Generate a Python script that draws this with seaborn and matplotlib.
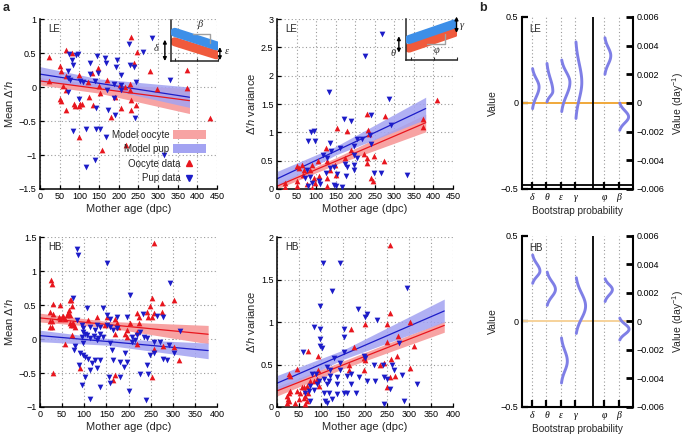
import numpy as np
import matplotlib
matplotlib.use('Agg')
import matplotlib.pyplot as plt
from matplotlib.patches import Patch
from matplotlib.lines import Line2D
from matplotlib.ticker import FuncFormatter
import seaborn as sns

sns.set_style('ticks')
plt.rcParams['font.family'] = ['Liberation Sans', 'DejaVu Sans']
plt.rcParams['mathtext.fontset'] = 'custom'
plt.rcParams['mathtext.rm'] = 'Liberation Sans'
plt.rcParams['mathtext.it'] = 'Liberation Sans:italic'
plt.rcParams['mathtext.bf'] = 'Liberation Sans:bold'

# ---------------- data ----------------
# LE, mean
le_mean_oo_x = [24,24,51,53,59,51,53,66,65,65,66,81,87,89,98,98,102,98,107,121,124,132,134,148,151,153,157,170,180,191,204,205,217,219,232,238,229,229,231,232,244,246,280,297,374,374,431]
le_mean_oo_y = [0.44,0.09,0.31,0.24,0.01,-0.18,-0.2,0.54,0.16,-0.04,-0.34,0.5,-0.25,-0.28,0.18,-0.28,-0.25,-0.73,-0.25,0.08,-0.14,0.2,-0.26,0.28,0.02,-0.09,-0.93,0.1,-0.44,-0.14,0.03,-0.31,0.0,-0.85,0.73,0.36,0.05,-0.04,-0.19,-0.34,-0.27,0.52,0.24,-0.03,0.25,-0.02,-0.46]
le_mean_pu_x = [73,81,83,92,96,72,72,76,72,98,102,109,83,117,117,126,126,140,142,143,140,153,148,146,165,168,168,170,174,187,187,191,195,193,205,205,205,225,229,238,244,242,263,284,314,331]
le_mean_pu_y = [0.48,0.4,0.33,0.47,0.49,0.23,0.13,0.11,-0.07,-0.17,0.09,0.08,-0.65,-0.62,-1.17,0.35,0.19,0.09,-0.31,-0.62,-1.07,-0.62,0.2,0.45,0.42,0.35,-0.73,-0.04,-0.34,0.05,-0.16,-0.41,0.4,0.3,0.18,0.03,-0.04,0.64,0.32,0.3,0.08,-0.45,0.52,0.72,-1.0,0.11]

# LE, variance
le_var_oo_x = [21,21,51,55,64,51,51,66,68,77,85,90,94,98,104,107,124,128,128,136,147,152,153,175,179,188,222,230,232,230,230,235,239,246,247,277,274,373,373,409,90,128]
le_var_oo_y = [0.11,0.03,0.41,0.37,0.43,0.14,0.05,0.25,0.33,0.09,0.34,0.43,0.2,0.11,0.5,0.23,0.73,0.49,0.2,0.34,0.43,0.25,1.07,0.54,1.03,0.68,0.61,1.33,1.04,0.55,0.46,0.97,0.2,0.14,0.58,1.29,0.49,1.23,1.1,1.57,0.02,0.05]
le_var_pu_x = [269,226,134,286,170,188,240,88,94,79,96,292,118,136,138,162,196,205,196,205,217,237,239,175,179,196,198,145,136,124,153,77,72,85,90,107,111,78,145,152,166,247,266,331,177,128]
le_var_pu_y = [2.73,2.34,1.71,1.59,1.23,1.2,1.3,1.01,1.03,0.85,0.85,1.13,0.6,0.82,0.67,0.72,0.76,0.89,0.6,0.55,0.88,0.95,0.8,0.44,0.39,0.43,0.33,0.39,0.37,0.28,0.27,0.34,0.2,0.21,0.11,0.14,0.09,0.05,0.07,0.05,0.03,0.28,0.28,0.24,0.23,0.55]

# HB, mean
hb_mean_oo_x = [24,28,30,23,23,26,30,23,26,45,44,45,50,53,57,60,63,66,67,70,72,68,72,75,70,78,57,30,72,90,109,128,147,151,170,170,174,177,170,166,192,196,196,204,219,219,223,223,219,242,245,249,253,253,257,258,258,253,275,275,302,279,302,313,68,75]
hb_mean_oo_y = [0.87,0.81,0.52,0.4,0.27,0.26,0.37,0.17,0.18,0.5,0.33,0.3,0.33,0.34,0.3,0.36,0.38,0.42,0.58,0.57,0.48,0.35,0.22,0.2,0.2,0.17,-0.08,-0.5,0.06,-0.42,0.28,0.33,0.21,0.33,0.3,0.08,0.23,0.18,-0.53,-0.61,0.08,0.03,0.13,0.23,0.38,0.11,0.33,0.23,-0.07,0.4,0.33,0.48,0.6,0.33,0.38,1.41,-0.15,-0.56,0.4,0.53,0.58,-0.11,-0.12,-0.31,0.23,0.23]
hb_mean_pu_x = [83,85,151,294,75,204,143,174,106,232,264,279,317,83,94,97,98,102,94,107,113,113,121,128,136,125,128,136,132,143,151,151,158,158,166,175,196,208,208,215,220,226,234,242,257,272,291,302,98,79,77,91,102,98,109,113,117,125,128,136,158,162,166,192,196,189,181,181,155,158,136,113,240,200,226,249,242,257,279,245,287,89,102,94]
hb_mean_pu_y = [1.32,1.24,1.12,0.82,0.6,0.65,0.45,0.33,0.45,0.37,0.34,0.33,0.12,0.28,0.21,0.16,0.11,0.07,0.03,0.06,0.01,0.18,0.04,0.21,0.18,0.13,-0.02,0.08,0.01,0.03,0.35,0.21,0.3,0.18,0.13,0.16,0.33,0.03,-0.04,-0.02,0.06,0.11,0.03,0.01,-0.04,-0.04,-0.09,-0.2,-0.24,-0.11,-0.16,-0.21,-0.26,-0.06,-0.29,-0.46,-0.36,-0.31,-0.43,-0.31,-0.06,-0.16,-0.31,-0.2,-0.34,-0.41,-0.34,-0.56,-0.56,-0.65,-0.7,-0.88,-0.89,-0.76,-0.51,-0.24,-0.38,-0.21,-0.29,-0.51,-0.31,-0.38,-0.56,-0.68]

# HB, variance
hb_var_oo_x = [256,256,303,250,201,167,274,311,174,250,273,197,201,163,163,197,242,235,259,303,269,256,250,70,92,45,29,27,27,30,23,24,23,27,45,53,57,61,64,68,64,70,76,83,91,92,95,61,68,49,64,42]
hb_var_oo_y = [1.91,1.11,1.0,0.98,0.98,0.92,0.83,0.72,0.71,0.76,0.6,0.58,0.55,0.5,0.43,0.44,0.52,0.5,0.56,0.46,0.37,0.35,0.23,0.66,0.6,0.45,0.37,0.39,0.17,0.19,0.13,0.09,0.05,0.07,0.19,0.17,0.23,0.24,0.19,0.25,0.13,0.16,0.3,0.31,0.33,0.43,0.25,0.11,0.07,0.09,0.03,0.05]
hb_var_pu_x = [105,144,125,295,184,205,201,227,97,83,97,153,152,97,98,102,59,277,153,129,144,114,197,201,220,241,261,265,284,242,250,256,318,288,244,205,223,186,167,159,121,121,136,117,114,106,117,110,114,125,136,152,159,180,76,80,89,95,76,64,72,83,91,136,144,167,106]
hb_var_pu_y = [1.69,1.69,1.37,1.4,1.15,1.09,1.06,1.02,1.19,0.94,0.92,0.92,0.82,0.8,0.72,0.7,0.65,0.75,0.65,0.58,0.52,0.47,0.6,0.58,0.5,0.5,0.5,0.44,0.38,0.35,0.33,0.21,0.27,0.07,0.03,0.31,0.31,0.35,0.27,0.37,0.43,0.37,0.35,0.31,0.27,0.17,0.16,0.07,0.05,0.09,0.15,0.17,0.17,0.17,0.25,0.39,0.39,0.31,0.07,0.17,0.19,0.2,0.27,0.27,0.43,0.39,0.33]

# model fits (mother age, fit, lower, upper)
fit_x = [0, 150, 380]
le_mean_oo_fit = [0.09, -0.025, -0.20];  le_mean_oo_lo = [0.03, -0.09, -0.39];  le_mean_oo_hi = [0.14, 0.04, -0.02]
le_mean_pu_fit = [0.19, 0.055, -0.15];   le_mean_pu_lo = [0.08, 0.0, -0.30];    le_mean_pu_hi = [0.30, 0.12, 0.0]
le_var_oo_fit = [0.05, 0.49, 1.17];      le_var_oo_lo = [0.0, 0.43, 1.01];      le_var_oo_hi = [0.10, 0.55, 1.32]
le_var_pu_fit = [0.18, 0.67, 1.42];      le_var_pu_lo = [0.05, 0.60, 1.23];     le_var_pu_hi = [0.31, 0.75, 1.62]
hb_mean_oo_fit = [0.31, 0.215, 0.07];    hb_mean_oo_lo = [0.25, 0.17, -0.07];   hb_mean_oo_hi = [0.38, 0.26, 0.20]
hb_mean_pu_fit = [0.05, -0.035, -0.17];  hb_mean_pu_lo = [-0.04, -0.09, -0.29]; hb_mean_pu_hi = [0.13, 0.01, -0.06]
hb_var_oo_fit = [0.19, 0.495, 0.96];     hb_var_oo_lo = [0.13, 0.45, 0.88];     hb_var_oo_hi = [0.24, 0.54, 1.01]
hb_var_pu_fit = [0.28, 0.615, 1.13];     hb_var_pu_lo = [0.19, 0.56, 1.00];     hb_var_pu_hi = [0.37, 0.67, 1.27]

# bootstrap distributions (peak, low end, high end, peak height)
params_left = ['δ', 'θ', 'ε', 'γ']
params_right = ['φ', 'β']
le_left_peak = [0.093, 0.068, 0.12, 0.12]
le_left_lo = [-0.033, 0.006, -0.05, -0.09]
le_left_hi = [0.20, 0.23, 0.25, 0.355]
le_left_h = [0.49, 0.44, 0.62, 0.44]
le_right_peak = [0.0033, -0.00097]
le_right_lo = [0.0020, -0.0019]
le_right_hi = [0.00455, 0.0]
le_right_h = [0.44, 0.67]
hb_left_peak = [0.295, 0.1875, -0.232, 0.09]
hb_left_lo = [0.223, 0.094, -0.36, -0.07]
hb_left_hi = [0.389, 0.289, -0.096, 0.256]
hb_left_h = [0.55, 0.62, 0.44, 0.70]
hb_right_peak = [0.00224, -0.00054]
hb_right_lo = [0.0014, -0.0013]
hb_right_hi = [0.0030, 0.00024]
hb_right_h = [0.55, 0.70]

# ---------------- style ----------------
RED = '#e8161e'
BLUE = '#1c1cc8'
RED_BAND = '#f7a3a3'
BLUE_BAND = '#a3a3f2'
VIOLIN = '#7f7fe6'
GRIDC = '#9a9a9a'

fmt = FuncFormatter(lambda v, p: ('%g' % round(v, 6)).replace('-', '\u2212'))

fig = plt.figure(figsize=(6.85, 4.38), dpi=100)


def scatter_panel(rect, xmax, ylim, yticks, ylabel, tag, ox, oy, px, py,
                  oo_fit, oo_lo, oo_hi, pu_fit, pu_lo, pu_hi):
    ax = fig.add_axes(rect)
    ax.fill_between(fit_x, oo_lo, oo_hi, color=RED_BAND, lw=0, zorder=1)
    ax.fill_between(fit_x, pu_lo, pu_hi, color=BLUE_BAND, alpha=0.85, lw=0, zorder=1.1)
    sns.lineplot(x=fit_x, y=oo_fit, color=RED, lw=0.9, ax=ax, zorder=2)
    sns.lineplot(x=fit_x, y=pu_fit, color=BLUE, lw=0.9, ax=ax, zorder=2)
    sns.scatterplot(x=ox, y=oy, marker='^', color=RED, s=17, linewidth=0, ax=ax, zorder=3)
    sns.scatterplot(x=px, y=py, marker='v', color=BLUE, s=17, linewidth=0, ax=ax, zorder=3)
    ax.set_xlim(0, xmax)
    ax.set_ylim(*ylim)
    ax.set_xticks(np.arange(0, xmax + 1, 50))
    ax.set_yticks(yticks)
    ax.xaxis.set_major_formatter(fmt)
    ax.yaxis.set_major_formatter(fmt)
    ax.grid(True, color=GRIDC, ls=(0, (1, 2.2)), lw=0.8, zorder=0)
    ax.set_axisbelow(True)
    for s in ['top', 'right']:
        ax.spines[s].set_visible(False)
    for s in ['left', 'bottom']:
        ax.spines[s].set_linewidth(1.1)
        ax.spines[s].set_color('black')
    ax.tick_params(direction='in', length=3, width=0.9, labelsize=6.5, pad=2.5, colors='black')
    ax.set_xlabel('Mother age (dpc)', fontsize=8, labelpad=2)
    ax.set_ylabel(ylabel, fontsize=8, labelpad=3)
    ax.text(0.045, 0.94, tag, transform=ax.transAxes, fontsize=7, va='center', ha='left')
    return ax


A_H = 0.388
ax1 = scatter_panel([0.0584, 0.5685, 0.2584, A_H], 450, (-1.5, 1), np.arange(-1.5, 1.01, 0.5),
                    'Mean Δ′$h$', 'LE', le_mean_oo_x, le_mean_oo_y, le_mean_pu_x, le_mean_pu_y,
                    le_mean_oo_fit, le_mean_oo_lo, le_mean_oo_hi, le_mean_pu_fit, le_mean_pu_lo, le_mean_pu_hi)
ax2 = scatter_panel([0.4044, 0.5685, 0.2570, A_H], 450, (0, 3), np.arange(0, 3.01, 0.5),
                    'Δ′$h$ variance', 'LE', le_var_oo_x, le_var_oo_y, le_var_pu_x, le_var_pu_y,
                    le_var_oo_fit, le_var_oo_lo, le_var_oo_hi, le_var_pu_fit, le_var_pu_lo, le_var_pu_hi)
ax3 = scatter_panel([0.0584, 0.0708, 0.2584, A_H], 400, (-1, 1.5), np.arange(-1, 1.51, 0.5),
                    'Mean Δ′$h$', 'HB', hb_mean_oo_x, hb_mean_oo_y, hb_mean_pu_x, hb_mean_pu_y,
                    hb_mean_oo_fit, hb_mean_oo_lo, hb_mean_oo_hi, hb_mean_pu_fit, hb_mean_pu_lo, hb_mean_pu_hi)
ax4 = scatter_panel([0.4044, 0.0708, 0.2570, A_H], 400, (0, 2), np.arange(0, 2.01, 0.5),
                    'Δ′$h$ variance', 'HB', hb_var_oo_x, hb_var_oo_y, hb_var_pu_x, hb_var_pu_y,
                    hb_var_oo_fit, hb_var_oo_lo, hb_var_oo_hi, hb_var_pu_fit, hb_var_pu_lo, hb_var_pu_hi)

# legend in first panel: model bands and data markers
band_handles = [Patch(facecolor=RED_BAND, edgecolor='none'),
                Patch(facecolor=BLUE_BAND, edgecolor='none')]
leg1 = ax1.legend(band_handles, ['Model oocyte', 'Model pup'],
                  loc='lower right', bbox_to_anchor=(0.935, 0.205), frameon=False, markerfirst=False,
                  fontsize=7, handlelength=3.3, handleheight=1.0, handletextpad=0.4,
                  labelspacing=0.45, borderpad=0, borderaxespad=0)
ax1.add_artist(leg1)
mark_handles = [Line2D([], [], marker='^', color=RED, ls='none', markersize=4),
                Line2D([], [], marker='v', color=BLUE, ls='none', markersize=4)]
ax1.legend(mark_handles, ['Oocyte data', 'Pup data'],
           loc='lower right', bbox_to_anchor=(0.865, 0.035), frameon=False, markerfirst=False,
           fontsize=7, handlelength=0.8, handletextpad=0.5,
           labelspacing=0.45, borderpad=0, borderaxespad=0)

SERIF = ['Liberation Serif', 'DejaVu Serif']


def inset(rect, blue_xy, red_xy, slope_pts, slope_lab, lab_xy, arrows):
    ia = fig.add_axes(rect)
    ia.set_xlim(0, 1)
    ia.set_ylim(0, 1)
    ia.patch.set_alpha(0)
    for s in ['top', 'right']:
        ia.spines[s].set_visible(False)
    for s in ['left', 'bottom']:
        ia.spines[s].set_linewidth(1.1)
    ia.set_xticks([0.09, 0.55, 1.0])
    ia.set_yticks([])
    ia.tick_params(axis='x', direction='in', length=2, width=0.8, labelbottom=False)
    ia.plot(*red_xy, color='#f05a3c', lw=6.5, solid_capstyle='round', zorder=2)
    ia.plot(*blue_xy, color='#3d8fe8', lw=6.5, solid_capstyle='round', zorder=3)
    ia.plot(*slope_pts, color='#a0a0a0', lw=1.0, zorder=4)
    ia.text(*lab_xy, slope_lab, fontsize=7.5, family=SERIF, style='italic', ha='center', va='center')
    for (x, y0, y1, lab, lx, ly) in arrows:
        ia.annotate('', xy=(x, y1), xytext=(x, y0),
                    arrowprops=dict(arrowstyle='<|-|>', color='black', lw=1.0,
                                    mutation_scale=5, shrinkA=0, shrinkB=0),
                    annotation_clip=False)
        ia.text(lx, ly, lab, fontsize=7.5, family=SERIF, style='italic', ha='center', va='center')
    return ia


inset([0.2496, 0.8607, 0.0686, 0.0936],
      ([0.08, 0.97], [0.70, 0.37]), ([0.08, 0.97], [0.47, 0.15]),
      ([0.47, 0.83, 0.83], [0.66, 0.66, 0.44]), 'β', (0.62, 0.9),
      [(-0.13, 0.0, 0.52, 'δ', -0.32, 0.3), (1.04, 0.02, 0.34, 'ε', 1.18, 0.22)])
inset([0.5927, 0.8630, 0.0745, 0.0936],
      ([0.06, 0.95], [0.50, 0.88]), ([0.06, 0.95], [0.29, 0.67]),
      ([0.41, 0.76, 0.76], [0.39, 0.39, 0.63]), 'φ', (0.59, 0.22),
      [(-0.14, 0.18, 0.58, 'θ', -0.26, 0.17), (0.99, 0.66, 1.06, 'γ', 1.1, 0.85)])


def curve(ax, pos, peak, lo, hi, h):
    ys = np.linspace(lo, hi, 120)
    sd = np.where(ys < peak, (peak - lo) / 2.2, (hi - peak) / 2.2)
    xs = pos + h * np.exp(-0.5 * ((ys - peak) / sd) ** 2)
    sns.lineplot(x=xs, y=ys, sort=False, estimator=None, color=VIOLIN, lw=2.1, ax=ax, zorder=3)


pos_left = [1, 2, 3, 4]
pos_right = [6, 7]


def panel_b(rect, tag, lpk, llo, lhi, lh, rpk, rlo, rhi, rh, zero_color, double_bottom):
    ax = fig.add_axes(rect)
    ax.set_xlim(0.31, 7.97)
    ax.set_ylim(-0.5, 0.5)
    for x in pos_left + pos_right:
        ax.axvline(x, color=GRIDC, ls=(0, (1, 2.2)), lw=0.8, zorder=0)
    ax.axvline(5.24, color='black', lw=1.3, zorder=2)
    ax.axhline(0, color=zero_color, lw=1.4, zorder=1)
    if double_bottom:
        ax.axhline(-0.476, color='black', lw=1.3, zorder=2)
    for p, a, b, c, h in zip(pos_left, lpk, llo, lhi, lh):
        curve(ax, p, a, b, c, h)
    ax.set_yticks([-0.5, 0, 0.5])
    ax.yaxis.set_major_formatter(fmt)
    ax.set_xticks(pos_left + pos_right)
    ax.set_xticklabels(params_left + params_right, family=SERIF, style='italic', fontsize=7)
    ax.tick_params(axis='x', direction='in', length=5, width=1.6, pad=3, colors='black')
    ax.tick_params(axis='y', direction='in', length=4, width=1.6, labelsize=6.5, pad=2.5, colors='black')
    ax.spines['top'].set_visible(False)
    ax.spines['right'].set_visible(False)
    for s in ['left', 'bottom']:
        ax.spines[s].set_linewidth(1.5)
        ax.spines[s].set_color('black')
    ax.set_ylabel('Value', fontsize=7.5, labelpad=2)
    ax.set_xlabel('Bootstrap probability', fontsize=7.2, labelpad=3)
    ax.text(0.07, 0.93, tag, transform=ax.transAxes, fontsize=7, va='center', ha='left')
    axr = ax.twinx()
    axr.set_ylim(-0.006, 0.006)
    for p, a, b, c, h in zip(pos_right, rpk, rlo, rhi, rh):
        curve(axr, p, a, b, c, h)
    axr.set_yticks(np.arange(-0.006, 0.0061, 0.002))
    axr.yaxis.set_major_formatter(fmt)
    axr.tick_params(axis='y', direction='in', length=5, width=2.0, labelsize=6.5, pad=2.5, colors='black')
    for s in ['top', 'left', 'bottom']:
        axr.spines[s].set_visible(False)
    axr.spines['right'].set_linewidth(1.5)
    axr.spines['right'].set_color('black')
    axr.set_ylabel('Value (day$^{-1}$)', fontsize=7.5, labelpad=4)
    return ax


panel_b([0.762, 0.5685, 0.162, 0.3927], 'LE', le_left_peak, le_left_lo, le_left_hi, le_left_h,
        le_right_peak, le_right_lo, le_right_hi, le_right_h, '#f0a83a', True)
panel_b([0.762, 0.0708, 0.162, 0.3904], 'HB', hb_left_peak, hb_left_lo, hb_left_hi, hb_left_h,
        hb_right_peak, hb_right_lo, hb_right_hi, hb_right_h, '#f6d29a', False)

fig.text(0.004, 0.995, 'a', fontsize=9, fontweight='bold', va='top', ha='left')
fig.text(0.700, 0.995, 'b', fontsize=9, fontweight='bold', va='top', ha='left')

fig.savefig('out.png', dpi=100)
